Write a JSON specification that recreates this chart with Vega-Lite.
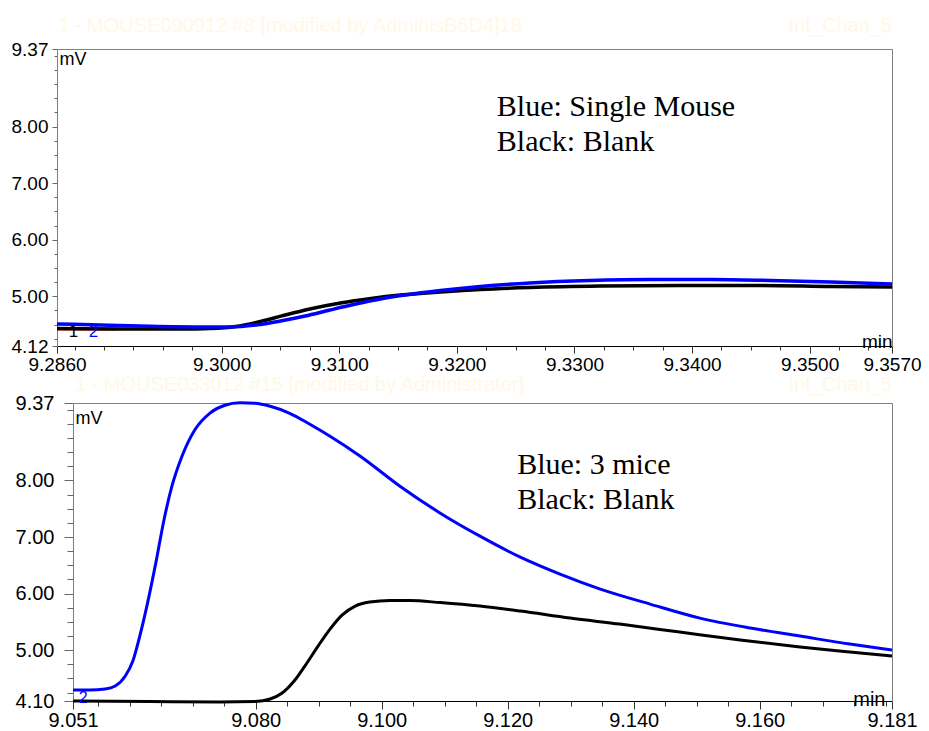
{
  "$schema": "https://vega.github.io/schema/vega-lite/v6.json",
  "background": "white",
  "padding": {"left": 11, "top": 15, "right": 2, "bottom": 2},
  "spacing": 0,
  "config": {
    "view": {"stroke": null},
    "axis": {"grid": false, "labelFont": "Liberation Sans", "titleFont": "Liberation Sans", "labelColor": "#000", "titleColor": "#000", "titleFontWeight": "normal", "labelFlush": false, "labelOverlap": false}
  },
  "datasets": {
    "top": [
      {"series": "Blank", "t": 9.2860, "v": 4.429},
      {"series": "Blank", "t": 9.2914, "v": 4.420},
      {"series": "Blank", "t": 9.2965, "v": 4.420},
      {"series": "Blank", "t": 9.2990, "v": 4.430},
      {"series": "Blank", "t": 9.3012, "v": 4.465},
      {"series": "Blank", "t": 9.3033, "v": 4.553},
      {"series": "Blank", "t": 9.3054, "v": 4.668},
      {"series": "Blank", "t": 9.3075, "v": 4.774},
      {"series": "Blank", "t": 9.3101, "v": 4.880},
      {"series": "Blank", "t": 9.3127, "v": 4.960},
      {"series": "Blank", "t": 9.3152, "v": 5.020},
      {"series": "Blank", "t": 9.3186, "v": 5.075},
      {"series": "Blank", "t": 9.3220, "v": 5.120},
      {"series": "Blank", "t": 9.3262, "v": 5.154},
      {"series": "Blank", "t": 9.3322, "v": 5.180},
      {"series": "Blank", "t": 9.3390, "v": 5.190},
      {"series": "Blank", "t": 9.3458, "v": 5.190},
      {"series": "Blank", "t": 9.3518, "v": 5.172},
      {"series": "Blank", "t": 9.3570, "v": 5.163},
      {"series": "Single Mouse", "t": 9.2860, "v": 4.509},
      {"series": "Single Mouse", "t": 9.2897, "v": 4.491},
      {"series": "Single Mouse", "t": 9.2939, "v": 4.468},
      {"series": "Single Mouse", "t": 9.2982, "v": 4.456},
      {"series": "Single Mouse", "t": 9.3007, "v": 4.456},
      {"series": "Single Mouse", "t": 9.3029, "v": 4.491},
      {"series": "Single Mouse", "t": 9.3050, "v": 4.562},
      {"series": "Single Mouse", "t": 9.3071, "v": 4.650},
      {"series": "Single Mouse", "t": 9.3092, "v": 4.756},
      {"series": "Single Mouse", "t": 9.3114, "v": 4.862},
      {"series": "Single Mouse", "t": 9.3135, "v": 4.951},
      {"series": "Single Mouse", "t": 9.3156, "v": 5.021},
      {"series": "Single Mouse", "t": 9.3186, "v": 5.101},
      {"series": "Single Mouse", "t": 9.3220, "v": 5.172},
      {"series": "Single Mouse", "t": 9.3262, "v": 5.234},
      {"series": "Single Mouse", "t": 9.3313, "v": 5.278},
      {"series": "Single Mouse", "t": 9.3365, "v": 5.296},
      {"series": "Single Mouse", "t": 9.3416, "v": 5.296},
      {"series": "Single Mouse", "t": 9.3467, "v": 5.278},
      {"series": "Single Mouse", "t": 9.3518, "v": 5.251},
      {"series": "Single Mouse", "t": 9.3570, "v": 5.216}
    ],
    "bottom": [
      {"series": "Blank", "t": 9.0510, "v": 4.100},
      {"series": "Blank", "t": 9.0632, "v": 4.090},
      {"series": "Blank", "t": 9.0743, "v": 4.082},
      {"series": "Blank", "t": 9.0799, "v": 4.090},
      {"series": "Blank", "t": 9.0823, "v": 4.135},
      {"series": "Blank", "t": 9.0842, "v": 4.241},
      {"series": "Blank", "t": 9.0861, "v": 4.453},
      {"series": "Blank", "t": 9.0878, "v": 4.718},
      {"series": "Blank", "t": 9.0899, "v": 5.072},
      {"series": "Blank", "t": 9.0918, "v": 5.372},
      {"series": "Blank", "t": 9.0937, "v": 5.619},
      {"series": "Blank", "t": 9.0958, "v": 5.778},
      {"series": "Blank", "t": 9.0981, "v": 5.849},
      {"series": "Blank", "t": 9.1013, "v": 5.876},
      {"series": "Blank", "t": 9.1045, "v": 5.876},
      {"series": "Blank", "t": 9.1093, "v": 5.840},
      {"series": "Blank", "t": 9.1156, "v": 5.778},
      {"series": "Blank", "t": 9.1220, "v": 5.690},
      {"series": "Blank", "t": 9.1299, "v": 5.566},
      {"series": "Blank", "t": 9.1378, "v": 5.460},
      {"series": "Blank", "t": 9.1473, "v": 5.319},
      {"series": "Blank", "t": 9.1569, "v": 5.178},
      {"series": "Blank", "t": 9.1664, "v": 5.054},
      {"series": "Blank", "t": 9.1743, "v": 4.966},
      {"series": "Blank", "t": 9.1810, "v": 4.895},
      {"series": "3 mice", "t": 9.0510, "v": 4.294},
      {"series": "3 mice", "t": 9.0537, "v": 4.294},
      {"series": "3 mice", "t": 9.0561, "v": 4.312},
      {"series": "3 mice", "t": 9.0577, "v": 4.365},
      {"series": "3 mice", "t": 9.0593, "v": 4.542},
      {"series": "3 mice", "t": 9.0605, "v": 4.807},
      {"series": "3 mice", "t": 9.0616, "v": 5.248},
      {"series": "3 mice", "t": 9.0629, "v": 5.867},
      {"series": "3 mice", "t": 9.0642, "v": 6.573},
      {"series": "3 mice", "t": 9.0654, "v": 7.280},
      {"series": "3 mice", "t": 9.0667, "v": 7.899},
      {"series": "3 mice", "t": 9.0683, "v": 8.429},
      {"series": "3 mice", "t": 9.0704, "v": 8.906},
      {"series": "3 mice", "t": 9.0727, "v": 9.188},
      {"series": "3 mice", "t": 9.0751, "v": 9.330},
      {"series": "3 mice", "t": 9.0775, "v": 9.374},
      {"series": "3 mice", "t": 9.0799, "v": 9.365},
      {"series": "3 mice", "t": 9.0823, "v": 9.312},
      {"series": "3 mice", "t": 9.0854, "v": 9.188},
      {"series": "3 mice", "t": 9.0886, "v": 8.994},
      {"series": "3 mice", "t": 9.0918, "v": 8.782},
      {"series": "3 mice", "t": 9.0966, "v": 8.429},
      {"series": "3 mice", "t": 9.1029, "v": 7.899},
      {"series": "3 mice", "t": 9.1093, "v": 7.422},
      {"series": "3 mice", "t": 9.1156, "v": 7.015},
      {"series": "3 mice", "t": 9.1220, "v": 6.644},
      {"series": "3 mice", "t": 9.1283, "v": 6.344},
      {"series": "3 mice", "t": 9.1347, "v": 6.079},
      {"series": "3 mice", "t": 9.1426, "v": 5.814},
      {"series": "3 mice", "t": 9.1505, "v": 5.566},
      {"series": "3 mice", "t": 9.1585, "v": 5.390},
      {"series": "3 mice", "t": 9.1664, "v": 5.248},
      {"series": "3 mice", "t": 9.1743, "v": 5.107},
      {"series": "3 mice", "t": 9.1810, "v": 5.001}
    ]
  },
  "vconcat": [
    {
      "width": 835,
      "height": 297,
      "resolve": {"axis": {"x": "independent", "y": "independent"}},
      "layer": [
        {
          "data": {"values": [{}]},
          "mark": {"type": "rule", "color": "#e00000", "strokeWidth": 1.2},
          "encoding": {
            "x": {"datum": 9.286, "type": "quantitative", "axis": null},
            "x2": {"datum": 9.2911},
            "y": {"datum": 4.405, "type": "quantitative", "axis": null}
          }
        },
        {
          "data": {"name": "top"},
          "mark": {"type": "line", "strokeWidth": 3.5, "interpolate": "monotone"},
          "encoding": {
            "x": {"field": "t", "type": "quantitative",
              "scale": {"domain": [9.286, 9.357], "nice": false, "zero": false},
              "axis": {"orient": "bottom", "values": [9.286, 9.3, 9.31, 9.32, 9.33, 9.34, 9.35, 9.357], "format": ".4f", "labelFontSize": 19, "tickSize": 7, "tickColor": "#333", "domainColor": "#000", "labelPadding": 2,
                "title": "min", "titleX": 835, "titleY": 1, "titleAlign": "right", "titleBaseline": "alphabetic", "titleFontSize": 19}},
            "y": {"field": "v", "type": "quantitative",
              "scale": {"domain": [4.12, 9.37], "nice": false, "zero": false},
              "axis": {"orient": "left", "values": [4.12, 5, 6, 7, 8, 9.37], "format": ".2f", "labelFontSize": 19, "tickSize": 5, "labelPadding": 4, "domainColor": "#808080", "tickColor": "#666",
                "title": "mV", "titleAngle": 0, "titleX": 2, "titleY": 1, "titleAlign": "left", "titleBaseline": "top", "titleFontSize": 18}},
            "color": {"field": "series", "type": "nominal", "scale": {"domain": ["Blank", "Single Mouse", "3 mice"], "range": ["#000000", "#0000ff", "#0000ff"]}, "legend": null}
          }
        },
        {
          "data": {"values": [{}]},
          "mark": {"type": "text", "text": ["Blue: Single Mouse", "Black: Blank"], "font": "Liberation Serif", "fontSize": 30, "lineHeight": 35, "align": "left", "baseline": "top", "color": "#000"},
          "encoding": {
            "x": {"datum": 9.3234, "type": "quantitative",
              "axis": {"orient": "bottom", "values": [9.2875, 9.29, 9.2925, 9.295, 9.2975, 9.3, 9.3025, 9.305, 9.3075, 9.31, 9.3125, 9.315, 9.3175, 9.32, 9.3225, 9.325, 9.3275, 9.33, 9.3325, 9.335, 9.3375, 9.34, 9.3425, 9.345, 9.3475, 9.35, 9.3525, 9.355], "labels": false, "domain": false, "tickSize": 4, "tickColor": "#333", "title": null}},
            "y": {"datum": 8.61, "type": "quantitative",
              "axis": {"orient": "left", "values": [4.25, 4.5, 4.75, 5.25, 5.5, 5.75, 6.25, 6.5, 6.75, 7.25, 7.5, 7.75, 8.25, 8.5, 8.75, 9, 9.25], "labels": false, "domain": false, "tickSize": 3, "tickColor": "#666", "title": null}}
          }
        },
        {
          "data": {"values": [{}]},
          "mark": {"type": "text", "text": "1 - MOUSE090912 #8 [modified by AdminisB6D4]18", "font": "Liberation Sans", "fontSize": 20, "align": "left", "baseline": "middle", "color": "#FFF8E6"},
          "encoding": {
            "x": {"datum": 9.2861, "type": "quantitative", "axis": {"orient": "top", "labels": false, "ticks": false, "domain": true, "domainColor": "#808080", "title": null}},
            "y": {"datum": 9.777, "type": "quantitative", "axis": {"orient": "right", "labels": false, "ticks": false, "domain": true, "domainColor": "#808080", "title": null}}
          }
        },
        {
          "data": {"values": [{}]},
          "mark": {"type": "text", "text": "Int_Chan_5", "font": "Liberation Sans", "fontSize": 20, "align": "right", "baseline": "middle", "color": "#FFF8E6"},
          "encoding": {
            "x": {"datum": 9.357, "type": "quantitative", "axis": null},
            "y": {"datum": 9.777, "type": "quantitative", "axis": null}
          }
        },
        {
          "data": {"values": [{}]},
          "mark": {"type": "text", "text": "1", "font": "Liberation Sans", "fontSize": 17, "align": "center", "baseline": "middle", "color": "#000"},
          "encoding": {
            "x": {"datum": 9.2874, "type": "quantitative", "axis": null},
            "y": {"datum": 4.367, "type": "quantitative", "axis": null}
          }
        },
        {
          "data": {"values": [{}]},
          "mark": {"type": "text", "text": "2", "font": "Liberation Sans", "fontSize": 17, "align": "center", "baseline": "middle", "color": "#0000ff"},
          "encoding": {
            "x": {"datum": 9.2891, "type": "quantitative", "axis": null},
            "y": {"datum": 4.367, "type": "quantitative", "axis": null}
          }
        }
      ]
    },
    {
      "width": 835,
      "height": 298,
      "resolve": {"axis": {"x": "independent", "y": "independent"}},
      "layer": [
        {
          "data": {"name": "bottom"},
          "mark": {"type": "line", "strokeWidth": 3, "interpolate": "monotone"},
          "encoding": {
            "x": {"field": "t", "type": "quantitative",
              "scale": {"domain": [9.051, 9.181], "nice": false, "zero": false, "range": [16, 835]},
              "axis": {"orient": "bottom", "values": [9.051, 9.08, 9.1, 9.12, 9.14, 9.16, 9.181], "format": ".3f", "labelFontSize": 20, "tickSize": 8, "tickColor": "#333", "domainColor": "#000", "labelPadding": 1,
                "title": "min", "titleX": 828, "titleY": 4, "titleAlign": "right", "titleBaseline": "alphabetic", "titleFontSize": 20}},
            "y": {"field": "v", "type": "quantitative",
              "scale": {"domain": [4.10, 9.37], "nice": false, "zero": false},
              "axis": {"orient": "left", "offset": -16, "values": [4.10, 5, 6, 7, 8, 9.37], "format": ".2f", "labelFontSize": 20, "tickSize": 9, "labelPadding": 10, "domainColor": "#808080", "tickColor": "#666",
                "title": "mV", "titleAngle": 0, "titleX": 2, "titleY": 6, "titleAlign": "left", "titleBaseline": "top", "titleFontSize": 18}},
            "color": {"field": "series", "type": "nominal", "scale": {"domain": ["Blank", "Single Mouse", "3 mice"], "range": ["#000000", "#0000ff", "#0000ff"]}, "legend": null}
          }
        },
        {
          "data": {"values": [{}]},
          "mark": {"type": "text", "text": ["Blue: 3 mice", "Black: Blank"], "font": "Liberation Serif", "fontSize": 30, "lineHeight": 35, "align": "left", "baseline": "top", "color": "#000"},
          "encoding": {
            "x": {"datum": 9.1215, "type": "quantitative",
              "axis": {"orient": "bottom", "values": [9.055, 9.06, 9.065, 9.07, 9.075, 9.08, 9.085, 9.09, 9.095, 9.1, 9.105, 9.11, 9.115, 9.12, 9.125, 9.13, 9.135, 9.14, 9.145, 9.15, 9.155, 9.16, 9.165, 9.17, 9.175, 9.18], "labels": false, "domain": false, "tickSize": 5, "tickColor": "#333", "title": null}},
            "y": {"datum": 8.535, "type": "quantitative",
              "axis": {"orient": "left", "offset": -16, "values": [4.25, 4.5, 4.75, 5.25, 5.5, 5.75, 6.25, 6.5, 6.75, 7.25, 7.5, 7.75, 8.25, 8.5, 8.75, 9, 9.25], "labels": false, "domain": false, "tickSize": 6, "tickColor": "#666", "title": null}}
          }
        },
        {
          "data": {"values": [{}]},
          "mark": {"type": "text", "text": "1 - MOUSE033012 #15 [modified by Administrator]", "font": "Liberation Sans", "fontSize": 20, "align": "left", "baseline": "middle", "color": "#FFF8E6"},
          "encoding": {
            "x": {"datum": 9.0513, "type": "quantitative", "axis": {"orient": "top", "labels": false, "ticks": false, "domain": true, "domainColor": "#808080", "title": null}},
            "y": {"datum": 9.692, "type": "quantitative", "axis": {"orient": "right", "labels": false, "ticks": false, "domain": true, "domainColor": "#808080", "title": null}}
          }
        },
        {
          "data": {"values": [{}]},
          "mark": {"type": "text", "text": "Int_Chan_5", "font": "Liberation Sans", "fontSize": 20, "align": "right", "baseline": "middle", "color": "#FFF8E6"},
          "encoding": {
            "x": {"datum": 9.181, "type": "quantitative", "axis": null},
            "y": {"datum": 9.692, "type": "quantitative", "axis": null}
          }
        },
        {
          "data": {"values": [{}]},
          "mark": {"type": "text", "text": "2", "font": "Liberation Sans", "fontSize": 16, "align": "center", "baseline": "middle", "color": "#0000ff"},
          "encoding": {
            "x": {"datum": 9.0526, "type": "quantitative", "axis": null},
            "y": {"datum": 4.16, "type": "quantitative", "axis": null}
          }
        }
      ]
    }
  ]
}
